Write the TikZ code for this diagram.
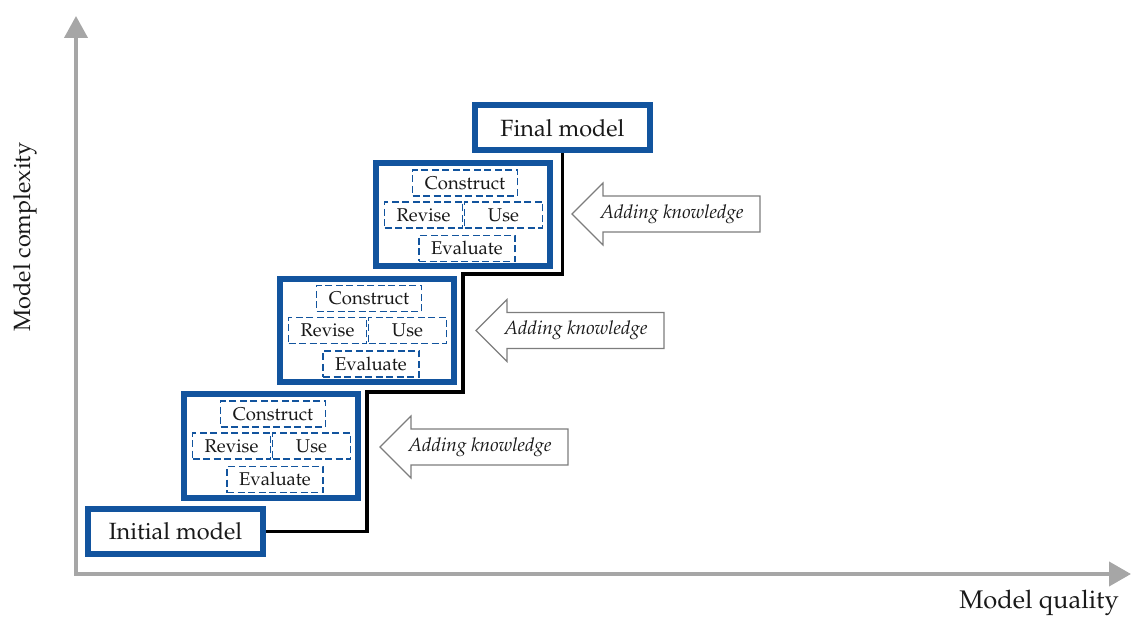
\documentclass[tikz,border=0pt]{standalone}
\usepackage[T1]{fontenc}
\usepackage{mathpazo}
\usetikzlibrary{calc,arrows.meta}
\definecolor{boxblue}{RGB}{18,84,158}
\definecolor{axisgrey}{RGB}{166,166,166}
\definecolor{arrowgrey}{RGB}{125,125,125}
\definecolor{txt}{RGB}{25,25,25}
\begin{document}
\begin{tikzpicture}[x=1pt,y=-1pt,
  mainbox/.style={draw=boxblue, line width=6pt, fill=white, inner sep=0pt, text=txt},
  titlebox/.style={mainbox, minimum width=175pt, minimum height=45pt, font=\fontsize{23.5}{27}\selectfont},
  stagebox/.style={mainbox, minimum width=174pt, minimum height=103pt},
  subbox/.style={draw=boxblue, line width=1.8pt, dash pattern=on 7pt off 3.5pt, fill=white, inner sep=0pt, minimum height=26pt, text=txt, font=\fontsize{18.5}{22}\selectfont},
  stair/.style={draw=black, line width=3.8pt},
  axisline/.style={draw=axisgrey, line width=4pt, line join=miter, {Triangle[length=22pt,width=23pt]}-{Triangle[length=22pt,width=24pt]}},
  kbarrow/.style={draw=arrowgrey, line width=1.1pt, fill=white, line join=miter},
  kbtext/.style={font=\fontsize{19}{22}\selectfont\itshape, text=txt, inner sep=0pt},
  axislabel/.style={font=\fontsize{23.5}{27}\selectfont, text=txt, inner sep=0pt}
]
\useasboundingbox (0,0) rectangle (1135,617);

% axes
\coordinate (ytip) at (76,16);
\coordinate (origin) at (76,574);
\coordinate (xtip) at (1131,574);
\draw[axisline] (ytip) -- (origin) -- (xtip);
\node[axislabel, rotate=90] (ylab) at (25,237) {Model complexity};
\node[axislabel, font=\fontsize{25.5}{29}\selectfont] (xlab) at (1039,603) {Model quality};

% staircase turning points
\coordinate (k1) at (367,392);
\coordinate (k2) at (463,274);

% title boxes
\node[titlebox] (init) at (175.5,531.5) {Initial model};
\node[titlebox] (final) at (562.5,128) {Final model};

\draw[stair] (init.east) -| (k1) -| (k2) -| (final.south);

% stage boxes
\foreach \i/\cx/\cy in {1/271/446, 2/367/330.5, 3/463/215}{
  \node[stagebox] (b\i) at (\cx,\cy) {};
  \node[subbox, minimum width=105pt] (c\i) at ($(b\i)+(2,-32)$) {Construct};
  \node[subbox, minimum width=78pt] (r\i) at ($(b\i)+(-39.5,0)$) {Revise};
  \node[subbox, minimum width=78pt] (u\i) at ($(b\i)+(40.5,0)$) {Use};
  \node[subbox, minimum width=96pt] (e\i) at ($(b\i)+(4,33.5)$) {Evaluate};
}

% adding knowledge arrows
\foreach \i/\tx/\ty in {1/380/447, 2/476/330.5, 3/572/214}{
  \coordinate (t\i) at (\tx,\ty);
  \draw[kbarrow] (t\i) -- ++(31,-31) -- ++(0,13) -- ++(157,0) -- ++(0,36) -- ++(-157,0) -- ++(0,13) -- cycle;
  \node[kbtext] (ak\i) at ($(t\i)+(100,0)$) {Adding knowledge};
}
\end{tikzpicture}
\end{document}
